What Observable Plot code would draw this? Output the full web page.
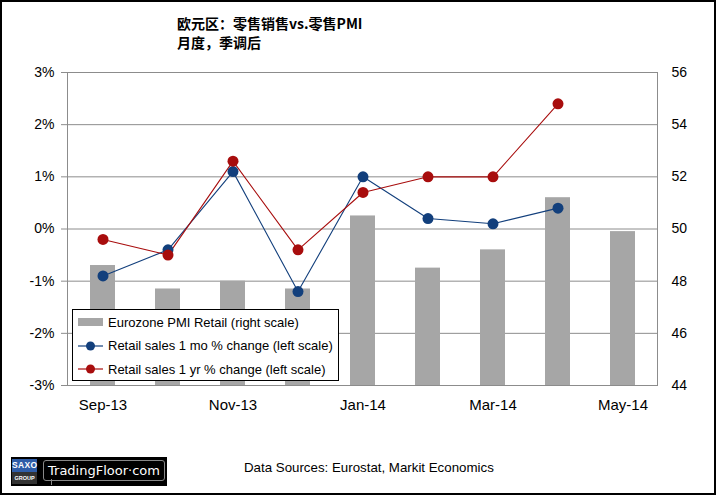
<!DOCTYPE html>
<html>
<head>
<meta charset="utf-8">
<script src="https://cdn.jsdelivr.net/npm/d3@7"></script>
<script src="https://cdn.jsdelivr.net/npm/@observablehq/plot@0.6"></script>
<style>
  html, body { margin:0; padding:0; background:#fff; }
  #wrap { position:relative; width:716px; height:495px; overflow:hidden; background:#fff; font-family:"Liberation Sans", Arial, sans-serif; }
  #border { position:absolute; left:0; top:0; width:716px; height:495px; box-sizing:border-box; border:2px solid #000; pointer-events:none; z-index:10; }
  #chart { position:absolute; left:0; top:0; }
  #title { position:absolute; left:177px; top:14px; font-family:"Noto Sans CJK SC", sans-serif; font-weight:bold; font-size:14px; line-height:19px; color:#000; }
  #legend { position:absolute; left:72px; top:309px; width:267px; height:72px; box-sizing:border-box; border:1.5px solid #000; background:#fff; z-index:5; font-family:"Liberation Sans", Arial, sans-serif; font-size:13px; color:#000; }
  .row { position:absolute; left:5px; height:20px; display:flex; align-items:center; white-space:nowrap; }
  .row svg { width:26px; height:20px; margin-right:4px; }
  #caption { position:absolute; left:244px; top:460px; font-size:13.3px; color:#000; }
  #logo { position:absolute; left:11px; top:457px; width:156px; height:29px; background:#000; }
  #saxo { position:absolute; left:1px; top:2px; width:25px; height:25px; }
  #saxo .t { height:13px; background:#2f5da8; color:#fff; font-size:8.5px; font-weight:bold; text-align:center; line-height:13px; letter-spacing:0.3px; }
  #saxo .b { height:12px; background:#333; color:#fff; font-size:5.5px; font-weight:bold; text-align:center; line-height:12px; }
  #bubble { position:absolute; left:32px; top:3px; width:120px; height:19px; border:1px solid #888; border-radius:3px; color:#fff; font-family:"DejaVu Sans", sans-serif; font-size:13px; line-height:19px; text-align:center; }
  #tail { position:absolute; left:40px; top:22px; width:0; height:6px; border-left:1px solid #888; }
</style>
</head>
<body>
<div id="wrap">
  <div id="chart"></div>
  <div id="title">欧元区：零售销售vs.零售PMI<br>月度，季调后</div>
  <div id="legend"></div>
  <div id="caption">Data Sources: Eurostat, Markit Economics</div>
  <div id="logo">
    <div id="saxo"><div class="t">SAXO</div><div class="b">GROUP</div></div>
    <div id="bubble">TradingFloor·com</div>
    <div id="tail"></div>
  </div>
  <div id="border"></div>
</div>
<script>
// ---- data ----
const months = ["Sep-13","Oct-13","Nov-13","Dec-13","Jan-14","Feb-14","Mar-14","Apr-14","May-14"];
const pmiRetail = [48.6, 47.7, 48.0, 47.7, 50.5, 48.5, 49.2, 51.2, 49.9];
const salesMoM  = [-0.9, -0.4, 1.1, -1.2, 1.0, 0.2, 0.1, 0.4, null];
const salesYoY  = [-0.2, -0.5, 1.3, -0.4, 0.7, 1.0, 1.0, 2.4, null];
const leftTicks  = [-3, -2, -1, 0, 1, 2, 3];
const rightTicks = [44, 46, 48, 50, 52, 54, 56];
const xLabels = ["Sep-13","Nov-13","Jan-14","Mar-14","May-14"];
const seriesNames = ["Eurozone PMI Retail (right scale)", "Retail sales 1 mo % change (left scale)", "Retail sales 1 yr % change (left scale)"];

const barColor = "#a6a6a6";
const blue = "#123f7c";
const red = "#a80d0d";
const grid = "#8c8c8c";

// right scale (44..56) mapped onto left scale (-3..3)
const rMin = rightTicks[0], rMax = rightTicks[rightTicks.length-1];
const lMin = leftTicks[0], lMax = leftTicks[leftTicks.length-1];
const toLeft = v => lMin + (v - rMin) * (lMax - lMin) / (rMax - rMin);
const toRight = v => rMin + (v - lMin) * (rMax - rMin) / (lMax - lMin);

const bars = months.map((m, i) => ({month: m, pmi: pmiRetail[i]}));
const mom = months.map((m, i) => ({month: m, v: salesMoM[i]}));
const yoy = months.map((m, i) => ({month: m, v: salesYoY[i]}));

const chart = Plot.plot({
  width: 716,
  height: 495,
  marginTop: 72,
  marginBottom: 110,
  marginLeft: 67,
  marginRight: 59,
  style: {background: "transparent", fontFamily: "'Liberation Sans', Arial, sans-serif", color: "#000"},
  x: {type: "band", domain: months, paddingInner: 0.62, paddingOuter: 0.31, axis: null, label: null},
  y: {domain: [lMin, lMax], axis: null, label: null},
  marks: [
    Plot.gridY(leftTicks, {stroke: grid, strokeOpacity: 1, strokeWidth: 1}),
    Plot.barY(bars, {x: "month", y1: () => toLeft(rMin), y2: d => toLeft(d.pmi), fill: barColor}),
    Plot.frame({stroke: grid, strokeWidth: 1}),
    Plot.axisY(leftTicks, {anchor: "left", label: null, tickFormat: d => d + "%", tickSize: 6, tickPadding: 7, stroke: grid, fontSize: 14}),
    Plot.axisY(rightTicks.map(toLeft), {anchor: "right", label: null, tickFormat: d => String(Math.round(toRight(d))), tickSize: 0, tickPadding: 14, fontSize: 14}),
    Plot.axisX(xLabels, {anchor: "bottom", label: null, tickSize: 0, tickPadding: 14, fontSize: 15}),
    Plot.line(mom, {x: "month", y: "v", stroke: blue, strokeWidth: 1.1, defined: d => d.v != null}),
    Plot.line(yoy, {x: "month", y: "v", stroke: red, strokeWidth: 1.1, defined: d => d.v != null}),
    Plot.dot(mom.filter(d => d.v != null), {x: "month", y: "v", r: 5.5, fill: blue, stroke: "none"}),
    Plot.dot(yoy.filter(d => d.v != null), {x: "month", y: "v", r: 5.5, fill: red, stroke: "none"})
  ]
});
document.getElementById("chart").appendChild(chart);

// legend
const legend = document.getElementById("legend");
const swatches = [
  `<svg viewBox="0 0 26 20"><rect x="0" y="6" width="25" height="8" fill="${barColor}"/></svg>`,
  `<svg viewBox="0 0 26 20"><line x1="0" y1="10" x2="25" y2="10" stroke="${blue}" stroke-width="1.2"/><circle cx="12.5" cy="10" r="4.5" fill="${blue}"/></svg>`,
  `<svg viewBox="0 0 26 20"><line x1="0" y1="10" x2="25" y2="10" stroke="${red}" stroke-width="1.2"/><circle cx="12.5" cy="10" r="4.5" fill="${red}"/></svg>`
];
seriesNames.forEach((name, i) => {
  const row = document.createElement("div");
  row.className = "row";
  row.style.top = (2 + i * 23.5) + "px";
  row.innerHTML = swatches[i] + `<span>${name}</span>`;
  legend.appendChild(row);
});
</script>
</body>
</html>
